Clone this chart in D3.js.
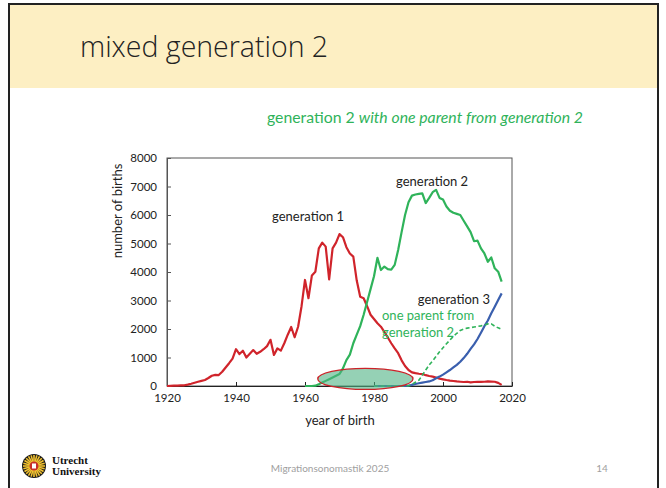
<!DOCTYPE html>
<html><head><meta charset="utf-8">
<script src="https://cdn.jsdelivr.net/npm/d3@7"></script>
<style>html,body{margin:0;padding:0;background:#fff;}svg{display:block;}</style>
</head><body>
<script>
// ---- data ----
const gen1Years = d3.range(1920, 2018);
const gen1Values = [0,5,10,15,20,25,50,80,115,150,180,210,280,360,390,385,500,650,800,960,
  1290,1120,1240,1000,1130,1260,1130,1200,1290,1400,1620,1090,1320,1240,1500,1800,2070,1710,2080,2800,
  3720,3080,3880,4010,4830,5030,4890,3740,4830,5030,5330,5220,4870,4650,4540,3700,3130,3080,2800,2500,
  2350,2200,2080,1900,1700,1500,1320,1150,900,700,560,480,450,430,420,380,350,330,300,260,
  235,210,190,175,160,150,140,150,130,140,150,145,150,160,155,150,110,40];
const gen2Years = d3.range(1960, 2018);
const gen2Values = [0,0,0,10,60,120,180,240,300,360,420,620,910,1100,1500,1800,2100,2500,2950,3400,
  3850,4500,4070,4190,4100,4080,4250,4770,5400,6000,6450,6680,6720,6740,6760,6420,6600,6800,6880,6600,
  6540,6300,6150,6080,6040,6000,5800,5600,5400,5080,5100,4830,4650,4360,4510,4130,4010,3660];
const gen3Years = d3.range(1980, 2018);
const gen3Values = [0,0,0,0,0,0,0,0,0,0,10,40,70,95,120,140,160,200,270,330,
  400,480,560,650,740,850,980,1130,1300,1460,1650,1870,2100,2300,2550,2780,3020,3250];
const oneParentYears = d3.range(1980, 2018);
const oneParentValues = [0,0,0,0,0,0,0,0,0,0,10,60,130,200,380,560,740,880,1040,1200,
  1340,1480,1610,1740,1850,1950,2000,2030,2050,2070,2090,2110,2140,2180,2180,2100,2040,1990];
const xTicks = [1920, 1940, 1960, 1980, 2000, 2020];
const yTicks = [0, 1000, 2000, 3000, 4000, 5000, 6000, 7000, 8000];
const highlight = {centerYear: 1977.5, leftYear: 1963.7, centerValue: 250, halfHeightValue: 370};

// ---- layout ----
const W = 666, H = 488;
const svg = d3.select("body").append("svg").attr("width", W).attr("height", H);
const font = "Lato, 'Open Sans', sans-serif";

// slide frame & header
svg.append("rect").attr("x", 9).attr("y", 4).attr("width", 649).attr("height", 500)
  .attr("fill", "#fff").attr("stroke", "#222").attr("stroke-width", 2);
svg.append("rect").attr("x", 10).attr("y", 5).attr("width", 647).attr("height", 83)
  .attr("fill", "#fdefc3");
svg.append("text").attr("x", 80).attr("y", 57).attr("font-family", "'Open Sans', Lato, sans-serif")
  .attr("font-weight", 300).attr("font-size", 28.5).attr("fill", "#222").text("mixed generation 2");

// subtitle
const sub = svg.append("text").attr("x", 267).attr("y", 123).attr("font-family", font)
  .attr("font-size", 15.8).attr("fill", "#2fb35a");
sub.append("tspan").text("generation 2 ");
sub.append("tspan").attr("font-style", "italic").text("with one parent from generation 2");

// chart
const x = d3.scaleLinear().domain([1920, 2020]).range([167, 512]);
const y = d3.scaleLinear().domain([0, 8000]).range([386, 158]);

svg.append("rect").attr("x", x(1920)).attr("y", y(8000))
  .attr("width", x(2020) - x(1920)).attr("height", y(0) - y(8000))
  .attr("fill", "none").attr("stroke", "#555").attr("stroke-width", 1);

const xAxis = svg.append("g").attr("transform", `translate(0,${y(0)})`)
  .call(d3.axisBottom(x).tickValues(xTicks).tickFormat(d3.format("d")).tickSizeInner(-4).tickSizeOuter(0).tickPadding(8));
xAxis.select(".domain").attr("stroke", "#222");
xAxis.selectAll("line").attr("stroke", "#222");
xAxis.selectAll("text").attr("font-family", font).attr("font-size", 11.5).attr("fill", "#222");

const yAxis = svg.append("g").attr("transform", `translate(${x(1920)},0)`)
  .call(d3.axisLeft(y).tickValues(yTicks).tickFormat(d3.format("d")).tickSizeInner(-4).tickSizeOuter(0).tickPadding(10));
yAxis.select(".domain").attr("stroke", "#555");
yAxis.selectAll("line").attr("stroke", "#555");
yAxis.selectAll("text").attr("font-family", font).attr("font-size", 11.5).attr("fill", "#222");

svg.append("text").attr("x", 340).attr("y", 425).attr("text-anchor", "middle")
  .attr("font-family", font).attr("font-size", 13).attr("fill", "#222").text("year of birth");
svg.append("text").attr("transform", "translate(122,211) rotate(-90)").attr("text-anchor", "middle")
  .attr("font-family", font).attr("font-size", 13).attr("fill", "#222").text("number of births");

const line = d3.line().x(d => x(d[0])).y(d => y(d[1]));
function series(years, vals, color, dash, width) {
  svg.append("path").datum(years.map((yr, i) => [yr, vals[i]]))
    .attr("d", line).attr("fill", "none").attr("stroke", color).attr("stroke-width", width || 2.2)
    .attr("stroke-linejoin", "round").attr("stroke-dasharray", dash || null);
}
series(gen1Years, gen1Values, "#d0242b");
series(gen2Years, gen2Values, "#2fb35a");
series(gen3Years, gen3Values, "#3a5fae");
series(oneParentYears, oneParentValues, "#2fb35a", "4,2.5", 1.6);

// highlight ellipse
const cx = x(highlight.centerYear), rx = cx - x(highlight.leftYear);
const cy = y(highlight.centerValue), ry = y(0) - y(highlight.halfHeightValue);
svg.append("ellipse").attr("cx", cx).attr("cy", cy).attr("rx", rx).attr("ry", ry)
  .attr("fill", "#4fb383").attr("fill-opacity", 0.6).attr("stroke", "#cc2229").attr("stroke-width", 1.3);

// labels
function lab(t, px, py, color, anchor) {
  svg.append("text").attr("x", px).attr("y", py).attr("font-family", font).attr("font-size", 13)
    .attr("fill", color).attr("text-anchor", anchor || "start").text(t);
}
lab("generation 1", 272, 221, "#222");
lab("generation 2", 396, 186, "#222");
lab("generation 3", 490, 304, "#222", "end");
lab("one parent from", 382, 320, "#2fb35a");
lab("generation 2", 382, 337, "#2fb35a");

// footer
const logo = svg.append("g").attr("transform", "translate(34,466)");
logo.append("circle").attr("r", 12).attr("fill", "#1a1a1a");
for (let i = 0; i < 24; i++) {
  const a = i / 24 * 2 * Math.PI;
  logo.append("line").attr("x1", Math.cos(a) * 4).attr("y1", Math.sin(a) * 4)
    .attr("x2", Math.cos(a) * 11).attr("y2", Math.sin(a) * 11)
    .attr("stroke", "#f2c230").attr("stroke-width", 1.6);
}
logo.append("circle").attr("r", 4.5).attr("fill", "#c8302a");
logo.append("rect").attr("x", -2).attr("y", -2.5).attr("width", 4).attr("height", 5).attr("fill", "#fff");
svg.append("text").attr("x", 52).attr("y", 464).attr("font-family", "'Liberation Serif', serif")
  .attr("font-weight", "bold").attr("font-size", 11).attr("fill", "#111").text("Utrecht");
svg.append("text").attr("x", 52).attr("y", 475).attr("font-family", "'Liberation Serif', serif")
  .attr("font-weight", "bold").attr("font-size", 11).attr("fill", "#111").text("University");
svg.append("text").attr("x", 330).attr("y", 472).attr("text-anchor", "middle").attr("font-family", font)
  .attr("font-size", 10).attr("fill", "#a0a0a0").text("Migrationsonomastik 2025");
svg.append("text").attr("x", 602).attr("y", 472).attr("text-anchor", "middle").attr("font-family", font)
  .attr("font-size", 10).attr("fill", "#a0a0a0").text("14");
</script>
</body></html>
